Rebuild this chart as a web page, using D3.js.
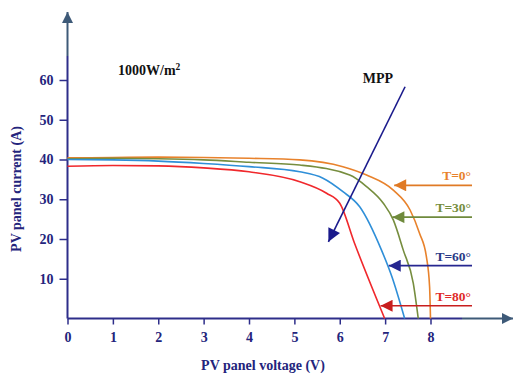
<!DOCTYPE html>
<html>
<head>
<meta charset="utf-8">
<script src="https://d3js.org/d3.v7.min.js"></script>
<style>
  body { margin: 0; background: #fff; }
  text { font-family: "Liberation Serif", "DejaVu Serif", serif; font-weight: bold; }
</style>
</head>
<body>
<div id="chart"></div>
<script>
// voltage ticks and current ticks
const xTicks = [0, 1, 2, 3, 4, 5, 6, 7, 8];
const yTicks = [10, 20, 30, 40, 50, 60];

// I-V curves, [voltage, current]
const curveT0 = [[0, 40.4], [1, 40.5], [2, 40.6], [3, 40.5], [4, 40.3], [5.12, 39.9], [6.07, 38.2], [6.59, 36.1],
  [7.18, 32.3], [7.55, 27.3], [7.76, 21.4], [7.91, 15.5], [7.98, 8], [8.0, 0]];
const curveT30 = [[0, 40.2], [1, 40.3], [2, 40.2], [3, 39.9], [4, 39.3], [5.12, 38.6], [6.22, 36.1], [6.59, 33.2],
  [6.96, 29.0], [7.18, 24.8], [7.40, 17.2], [7.62, 8.9], [7.73, 0]];
const curveT60 = [[0, 40.0], [1, 39.9], [2, 39.6], [3, 39.0], [4, 38.2], [5.12, 36.9], [5.63, 35.3], [6.07, 31.9],
  [6.44, 28.1], [6.92, 17.2], [7.15, 10.5], [7.43, 0]];
const curveT80 = [[0, 38.3], [1, 38.5], [2, 38.4], [3, 37.9], [4, 36.9], [5.12, 34.4], [5.71, 31.5], [6.0, 29.0],
  [6.33, 18.8], [6.99, 0]];

const seriesNames = ["T=0°", "T=30°", "T=60°", "T=80°"];
const seriesColors = ["#e8822c", "#768d3e", "#2f8fd8", "#f0282c"];
const labelColors = ["#e8822c", "#768d3e", "#2a3a86", "#e02a2a"];
const arrowColors = ["#e07a25", "#6f8a3c", "#262690", "#c81e1e"];
// label arrows: [current level of the arrow, voltage of the tip]
const arrowLevels = [33.5, 25.5, 13.3, 3.2];
const arrowTips = [7.2, 7.16, 7.08, 6.9];

// MPP arrow from [V, I] to [V, I]
const mppFrom = [7.44, 58.3];
const mppTo = [5.75, 19.3];

const width = 514;
const height = 373;

const svg = d3.select("#chart")
    .append("svg")
    .attr("width", width)
    .attr("height", height);

const xScale = d3.scaleLinear()
    .domain([0, 8])
    .range([67.5, 430.5]);

const yScale = d3.scaleLinear()
    .domain([0, 60])
    .range([318.5, 80]);

const axisColor = "#2e2e8a";
const axisTail = "#3e5a78";

const defs = svg.append("defs");
function addMarker(id, color, w, h) {
    defs.append("marker")
        .attr("id", id)
        .attr("viewBox", "0 0 10 10")
        .attr("refX", 10).attr("refY", 5)
        .attr("markerWidth", w).attr("markerHeight", h)
        .attr("markerUnits", "userSpaceOnUse")
        .attr("orient", "auto")
        .append("path")
        .attr("d", "M0,0 L10,5 L0,10 Z")
        .attr("fill", color);
}
addMarker("axisHead", axisTail, 11, 11);
arrowColors.forEach((c, i) => addMarker("lab" + i, c, 13, 12));
addMarker("mppHead", "#1a1a8c", 14, 13);

// X axis
const xAxis = d3.axisBottom(xScale)
    .tickValues(xTicks)
    .tickSize(6)
    .tickPadding(8)
    .tickFormat(d3.format("d"));

const gx = svg.append("g")
    .attr("transform", `translate(0,${yScale(0)})`)
    .call(xAxis);
gx.select(".domain").remove();

// Y axis
const yAxis = d3.axisLeft(yScale)
    .tickValues(yTicks)
    .tickSize(8)
    .tickPadding(6)
    .tickFormat(d3.format("d"));

const gy = svg.append("g")
    .attr("transform", `translate(${xScale(0)},0)`)
    .call(yAxis);
gy.select(".domain").remove();

svg.selectAll(".tick line").attr("stroke", axisColor).attr("stroke-width", 1.5);
svg.selectAll(".tick text")
    .attr("fill", "#24247c")
    .style("font-size", "14px")
    .style("font-family", "Liberation Serif, serif")
    .style("font-weight", "bold");

// axis lines with arrow heads
svg.append("line")
    .attr("x1", xScale(0)).attr("y1", yScale(0))
    .attr("x2", 462).attr("y2", yScale(0))
    .attr("stroke", axisColor).attr("stroke-width", 2);
svg.append("line")
    .attr("x1", 462).attr("y1", yScale(0))
    .attr("x2", 513).attr("y2", yScale(0))
    .attr("stroke", axisTail).attr("stroke-width", 2)
    .attr("marker-end", "url(#axisHead)");
svg.append("line")
    .attr("x1", xScale(0)).attr("y1", yScale(0))
    .attr("x2", xScale(0)).attr("y2", 56)
    .attr("stroke", axisColor).attr("stroke-width", 2);
svg.append("line")
    .attr("x1", xScale(0)).attr("y1", 56)
    .attr("x2", xScale(0)).attr("y2", 12)
    .attr("stroke", axisTail).attr("stroke-width", 2)
    .attr("marker-end", "url(#axisHead)");

// curves
const line = d3.line()
    .x(d => xScale(d[0]))
    .y(d => yScale(d[1]))
    .curve(d3.curveMonotoneX);

[curveT0, curveT30, curveT60, curveT80].forEach((data, i) => {
    svg.append("path")
        .datum(data)
        .attr("fill", "none")
        .attr("stroke", seriesColors[i])
        .attr("stroke-width", 1.6)
        .attr("d", line);
});

// temperature labels with arrows
seriesNames.forEach((name, i) => {
    const y = yScale(arrowLevels[i]);
    svg.append("line")
        .attr("x1", 472).attr("y1", y)
        .attr("x2", xScale(arrowTips[i])).attr("y2", y)
        .attr("stroke", arrowColors[i]).attr("stroke-width", 1.6)
        .attr("marker-end", `url(#lab${i})`);
    svg.append("text")
        .attr("x", 471).attr("y", y - 5)
        .attr("text-anchor", "end")
        .attr("fill", labelColors[i])
        .style("font-size", "13.5px")
        .text(name);
});

// MPP arrow
svg.append("line")
    .attr("x1", xScale(mppFrom[0])).attr("y1", yScale(mppFrom[1]))
    .attr("x2", xScale(mppTo[0])).attr("y2", yScale(mppTo[1]))
    .attr("stroke", "#1a1a8c").attr("stroke-width", 1.6)
    .attr("marker-end", "url(#mppHead)");

svg.append("text")
    .attr("x", 378).attr("y", 83)
    .attr("text-anchor", "middle")
    .attr("fill", "#111")
    .style("font-size", "14px")
    .text("MPP");

// irradiance label
const irr = svg.append("text")
    .attr("x", 118).attr("y", 75)
    .attr("fill", "#111")
    .style("font-size", "14px");
irr.append("tspan").text("1000W/m");
irr.append("tspan").attr("dy", -5).style("font-size", "9.5px").text("2");

// axis titles
svg.append("text")
    .attr("x", 263).attr("y", 370)
    .attr("text-anchor", "middle")
    .attr("fill", "#24247c")
    .style("font-size", "14px")
    .text("PV panel voltage (V)");

svg.append("text")
    .attr("transform", "translate(21,189) rotate(-90)")
    .attr("text-anchor", "middle")
    .attr("fill", "#24247c")
    .style("font-size", "14px")
    .text("PV panel current (A)");
</script>
</body>
</html>
